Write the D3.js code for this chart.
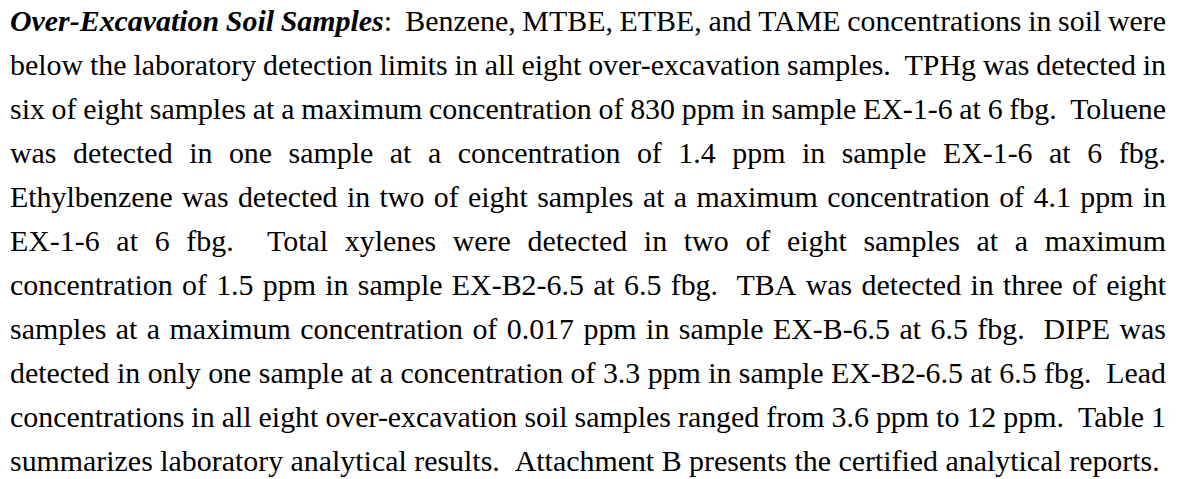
<!DOCTYPE html>
<html>
<head>
<meta charset="utf-8">
<script src="https://cdn.jsdelivr.net/npm/d3@7"></script>
<style>
  html, body { margin: 0; padding: 0; background: #fff; }
  svg { display: block; }
</style>
</head>
<body>
<div id="chart"></div>
<script>
// Heading run (bold italic) that opens the paragraph.
const heading = ["Over-Excavation", "Soil", "Samples"];

// Paragraph text, one entry per printed line (double spaces after sentences).
const lines = [
  "Over-Excavation Soil Samples:  Benzene, MTBE, ETBE, and TAME concentrations in soil were",
  "below the laboratory detection limits in all eight over-excavation samples.  TPHg was detected in",
  "six of eight samples at a maximum concentration of 830 ppm in sample EX-1-6 at 6 fbg.  Toluene",
  "was detected in one sample at a concentration of 1.4 ppm in sample EX-1-6 at 6 fbg.",
  "Ethylbenzene was detected in two of eight samples at a maximum concentration of 4.1 ppm in",
  "EX-1-6 at 6 fbg.  Total xylenes were detected in two of eight samples at a maximum",
  "concentration of 1.5 ppm in sample EX-B2-6.5 at 6.5 fbg.  TBA was detected in three of eight",
  "samples at a maximum concentration of 0.017 ppm in sample EX-B-6.5 at 6.5 fbg.  DIPE was",
  "detected in only one sample at a concentration of 3.3 ppm in sample EX-B2-6.5 at 6.5 fbg.  Lead",
  "concentrations in all eight over-excavation soil samples ranged from 3.6 ppm to 12 ppm.  Table 1",
  "summarizes laboratory analytical results.  Attachment B presents the certified analytical reports."
];

const width = 1178;
const height = 479;
const left = 10;
const right = 1166;
const lastLineEnd = 1160;
const fontFamily = '"Liberation Serif"';

const svg = d3.select("#chart")
  .append("svg")
    .attr("width", width)
    .attr("height", height)
    .attr("viewBox", [0, 0, width, height]);

svg.append("rect")
    .attr("width", width)
    .attr("height", height)
    .attr("fill", "#fff");

// Baseline of each printed line.
const y = d3.scaleLinear()
  .domain([0, lines.length - 1])
  .range([31, 471]);

// Split a line into words with the number of spaces that follow each one.
function tokenize(line) {
  const out = [];
  line.replace(/(\S+)(\s*)/g, (m, word, sp) => { out.push({word, gap: sp.length}); return m; });
  return out;
}

const rows = lines.map((line, i) => ({i, tokens: tokenize(line)}));
rows.forEach(r => r.tokens.forEach((t, k) => { t.line = r.i; t.k = k; }));

const g = svg.append("g").attr("fill", "#000");

// Write a word into a text element, styling the heading run.
function fillWord(text, d) {
  if (d.line === 0 && d.k < heading.length) {
    const head = heading[d.k];
    text.append("tspan")
        .style("font-family", fontFamily)
        .style("font-weight", "bold")
        .style("font-style", "italic")
        .text(head);
    const rest = d.word.slice(head.length);
    if (rest) text.append("tspan").style("font-family", fontFamily).text(rest);
  } else {
    text.text(d.word);
  }
}

// Measure word widths at a given font size.
function layout(fontSize) {
  return g.selectAll("text.word")
    .data(rows.flatMap(r => r.tokens))
    .join("text")
      .attr("class", "word")
      .style("font-family", fontFamily)
      .style("font-size", fontSize + "px")
      .each(function(d) {
        const t = d3.select(this);
        t.text(null);
        fillWord(t, d);
        d.w = this.getComputedTextLength();
      });
}

// Fit the font size so the last (unjustified) line ends where it does in print.
const spaceEm = 0.25;
let fontSize = 30;
layout(fontSize);
const lastRow = rows[rows.length - 1];
const naturalWidth = d3.sum(lastRow.tokens, t => t.w) +
  d3.sum(lastRow.tokens.slice(0, -1), t => t.gap) * spaceEm * fontSize;
fontSize = fontSize * (lastLineEnd - left) / naturalWidth;
const words = layout(fontSize);

// Justify every line but the last.
rows.forEach(r => {
  const toks = r.tokens;
  const units = d3.sum(toks.slice(0, -1), t => t.gap);
  let unit = spaceEm * fontSize;
  if (r.i < rows.length - 1) {
    unit = (right - left - d3.sum(toks, t => t.w)) / units;
  }
  let x = left;
  toks.forEach(t => {
    t.x = x;
    x += t.w + t.gap * unit;
  });
});

words
    .attr("x", d => d.x)
    .attr("y", d => y(d.line));
</script>
</body>
</html>
